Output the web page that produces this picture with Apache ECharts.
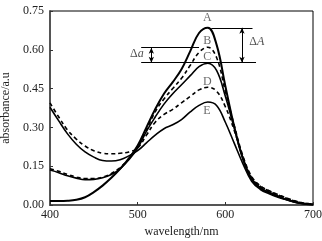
<!DOCTYPE html>
<html><head><meta charset="utf-8">
<script src="https://cdn.jsdelivr.net/npm/echarts@6/dist/echarts.min.js"></script>
<style>html,body{margin:0;padding:0;background:#fff}#c{width:322px;height:241px}</style>
</head><body><div id="c"></div>
<script>
const wavelengths = [400,410,420,430,440,450,460,470,480,490,500,510,520,530,540,550,560,570,580,590,600,610,620,630,640,650,660,670,680,690,700];
const curveA = [0.015,0.015,0.016,0.02,0.03,0.05,0.075,0.105,0.14,0.18,0.23,0.30,0.37,0.43,0.475,0.525,0.595,0.665,0.685,0.62,0.46,0.305,0.18,0.10,0.066,0.048,0.034,0.021,0.011,0.005,0.002];
const curveB = [0.14,0.13,0.118,0.108,0.102,0.102,0.108,0.122,0.145,0.18,0.225,0.29,0.36,0.41,0.45,0.49,0.54,0.59,0.61,0.57,0.44,0.31,0.19,0.11,0.074,0.055,0.04,0.027,0.015,0.007,0.003];
const curveC = [0.135,0.125,0.113,0.104,0.098,0.099,0.105,0.118,0.14,0.175,0.22,0.285,0.34,0.39,0.43,0.465,0.50,0.535,0.548,0.52,0.42,0.30,0.18,0.10,0.066,0.048,0.034,0.021,0.011,0.005,0.002];
const curveD = [0.395,0.34,0.29,0.255,0.228,0.21,0.20,0.198,0.20,0.205,0.22,0.27,0.32,0.35,0.37,0.395,0.42,0.445,0.455,0.44,0.38,0.29,0.185,0.105,0.072,0.054,0.039,0.026,0.014,0.007,0.003];
const curveE = [0.378,0.325,0.275,0.235,0.205,0.185,0.172,0.17,0.175,0.19,0.21,0.24,0.27,0.295,0.31,0.33,0.36,0.385,0.398,0.385,0.32,0.24,0.16,0.092,0.06,0.043,0.03,0.02,0.011,0.005,0.002];
const xTicks = [400,500,600,700];
const yTicks = [0.00,0.15,0.30,0.45,0.60,0.75];
const curveLabels = ['A','B','C','D','E'];
const labelPos = [[579.5,0.723],[579.5,0.634],[579.5,0.572],[579.5,0.475],[579,0.363]];
// annotation lines in data space
const lineTopA = [[584,0.685],[631,0.685]];
const lineTopB = [[504,0.608],[570,0.608]];
const lineBase = [[504,0.55],[635,0.55]];
const arrowBigA = [[619,0.685],[619,0.55]];
const arrowSmallA = [[515.6,0.608],[515.6,0.55]];
const deltaBigPos = [636,0.63];
const deltaSmallPos = [499,0.585];

const font = '"Liberation Serif","Times New Roman",serif';
function mk(vals){return wavelengths.map((w,i)=>[w,vals[i]]);}
const chart = echarts.init(document.getElementById('c'), null, {renderer:'canvas'});
const seriesDefs = [
  {d:curveA, type:'solid', w:2},
  {d:curveB, type:'dashed', w:1.6},
  {d:curveC, type:'solid', w:1.6},
  {d:curveD, type:'dashed', w:1.6},
  {d:curveE, type:'solid', w:1.6}
];
const series = seriesDefs.map(s=>({
  type:'line', data:mk(s.d), smooth:0.4, showSymbol:false, symbol:'none',
  lineStyle:{color:'#000', width:s.w, type: s.type==='dashed'?[4,3]:'solid'},
  silent:true, z:3
}));
series.push({
  type:'line', data:[], silent:true,
  markLine:{
    silent:true, symbol:['none','none'], label:{show:false}, animation:false,
    lineStyle:{color:'#000', width:1, type:'solid'},
    data:[
      [{coord:lineTopA[0]},{coord:lineTopA[1]}],
      [{coord:lineTopB[0]},{coord:lineTopB[1]}],
      [{coord:lineBase[0]},{coord:lineBase[1]}],
      [{coord:arrowBigA[0],symbol:'arrow'},{coord:arrowBigA[1],symbol:'arrow'}],
      [{coord:arrowSmallA[0],symbol:'arrow'},{coord:arrowSmallA[1],symbol:'arrow'}]
    ],
    symbolSize:[4,6]
  }
});
series.push({
  type:'scatter', symbolSize:0, silent:true, z:5,
  data: curveLabels.map((t,i)=>({value:labelPos[i], name:t})),
  label:{show:true, position:'inside', formatter:p=>p.name, color:'#444', fontFamily:font, fontSize:12}
});
series.push({
  type:'scatter', symbolSize:0, silent:true, z:5,
  data:[{value:deltaBigPos, name:'big'},{value:deltaSmallPos, name:'small'}],
  label:{show:true, position:'inside', fontFamily:font, fontSize:12, color:'#222',
    formatter:p=> p.name==='big' ? '{n|Δ}{i|A}' : '{n|Δ}{i|a}',
    rich:{n:{fontFamily:font,fontSize:12,color:'#222'}, i:{fontFamily:font,fontSize:12,fontStyle:'italic',color:'#222'}}}
});
chart.setOption({
  animation:false,
  backgroundColor:'#fff',
  grid:{left:50, right:9, top:11, bottom:36, show:true, borderColor:'#000', borderWidth:1, containLabel:false, outerBoundsMode:'none'},
  xAxis:{type:'value', min:400, max:700, interval:100,
    name:'wavelength/nm', nameLocation:'middle', nameGap:17,
    nameTextStyle:{fontFamily:font, fontSize:12, color:'#222'},
    axisLine:{show:true, lineStyle:{color:'#555', width:2}},
    axisTick:{show:true, inside:true, length:3, lineStyle:{color:'#333'}},
    axisLabel:{fontFamily:font, fontSize:12, color:'#222', margin:4, formatter:v=>String(v)},
    splitLine:{show:false}},
  yAxis:{type:'value', min:0, max:0.75, interval:0.15,
    name:'absorbance/a.u', nameLocation:'middle', nameGap:29,
    nameTextStyle:{fontFamily:font, fontSize:12, color:'#222'},
    axisLine:{show:true, lineStyle:{color:'#555', width:2}},
    axisTick:{show:true, inside:true, length:3, lineStyle:{color:'#333'}},
    axisLabel:{fontFamily:font, fontSize:12, color:'#222', margin:6, formatter:v=>v.toFixed(2)},
    splitLine:{show:false}},
  series:series
});
</script></body></html>
